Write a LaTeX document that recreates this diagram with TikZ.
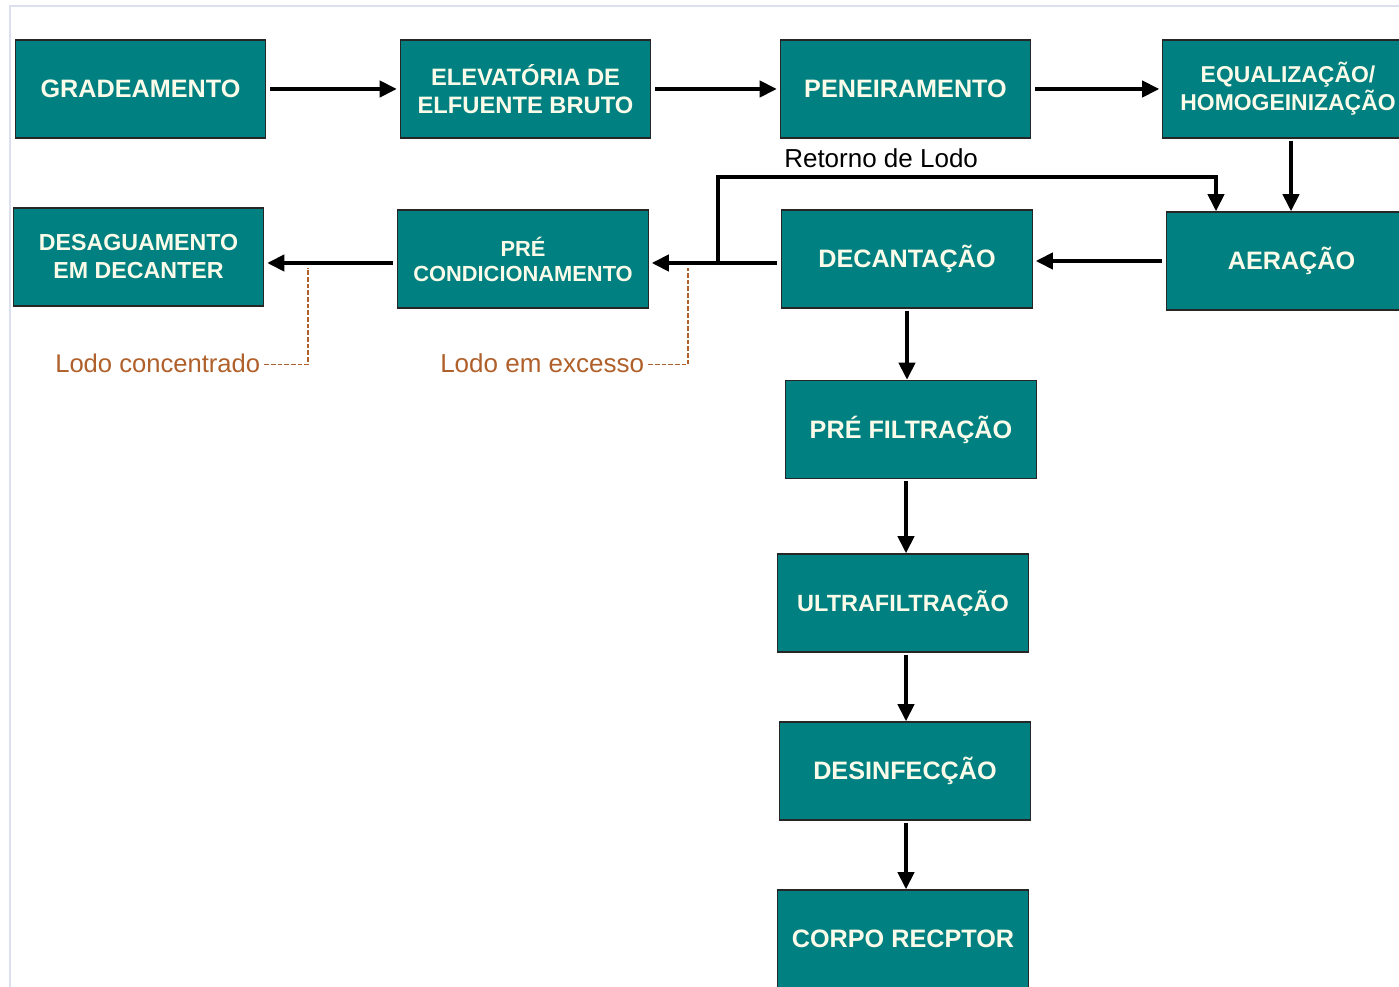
\documentclass[tikz,border=0pt]{standalone}
\usepackage{fontspec}
\setmainfont{Liberation Sans}
\usetikzlibrary{arrows.meta,calc}
\definecolor{boxfill}{HTML}{008080}
\definecolor{boxtext}{HTML}{FBFBEA}
\definecolor{sludge}{HTML}{B0602A}
\definecolor{framecol}{HTML}{DCDFEE}
\begin{document}
\begin{tikzpicture}[x=0.75pt,y=-0.75pt,
  stage/.style={draw=black!85, line width=0.9pt, fill=boxfill, text=boxtext,
    minimum width=188pt, minimum height=73.5pt, align=center, inner sep=0pt,
    font=\bfseries\fontsize{18.9}{21}\selectfont},
  twoline/.style={font=\bfseries\fontsize{17.8}{21}\selectfont},
  flow/.style={line width=3.4pt, line join=miter, shorten <=3pt, shorten >=2pt,
    -{Triangle[length=13pt,width=12pt]}},
  vflow/.style={flow, shorten <=1.5pt, shorten >=0pt},
  sludgelink/.style={draw=sludge, line width=0.8pt, dash pattern=on 3.5pt off 1.5pt},
  note/.style={inner sep=0pt, font=\fontsize{19.5}{22}\selectfont}]
\useasboundingbox (0,0) rectangle (1399,987);
\clip (0,0) rectangle (1399,987);
\fill[white] (0,0) rectangle (1399,987);
% outer frame
\draw[framecol, line width=1.2pt] (10,987) -- (10,6) -- (1399,6);

% treatment stages
\node[stage] (grad) at (140.5,89) {GRADEAMENTO};
\node[stage,twoline] (elev) at (525.5,89) {ELEVATÓRIA DE\\ELFUENTE BRUTO};
\node[stage] (pene) at (905.5,89) {PENEIRAMENTO};
\node[stage,font=\bfseries\fontsize{17.2}{21}\selectfont] (equa) at (1288,89) {EQUALIZAÇÃO/\\HOMOGEINIZAÇÃO};
\node[stage] (aera) at (1291.5,261) {AERAÇÃO};
\node[stage] (deca) at (907,259) {DECANTAÇÃO};
\node[stage,font=\bfseries\fontsize{16.4}{18.8}\selectfont] (prec) at (523,259) {PRÉ\\CONDICIONAMENTO};
\node[stage,font=\bfseries\fontsize{17.4}{21}\selectfont] (desa) at (138.5,257) {DESAGUAMENTO\\EM DECANTER};
\node[stage] (pref) at (911,429.5) {PRÉ FILTRAÇÃO};
\node[stage,font=\bfseries\fontsize{17.6}{21}\selectfont] (ultr) at (903,603) {ULTRAFILTRAÇÃO};
\node[stage] (desi) at (905,771) {DESINFECÇÃO};
\node[stage] (corp) at (903,939) {CORPO RECPTOR};

% main flow
\draw[flow] (grad.east) -- (grad.east -| elev.west);
\draw[flow] (elev.east) -- (elev.east -| pene.west);
\draw[flow] (pene.east) -- (pene.east -| equa.west);
\draw[vflow] ($(equa.south)+(3,0)$) -- ($(equa.south |- aera.north)+(3,0)$);
\draw[flow] (aera.west) -- (aera.west -| deca.east);
\draw[flow] ($(deca.west)+(0,4)$) -- ($(deca.west -| prec.east)+(0,4)$);
\draw[flow] ($(prec.west)+(0,4)$) -- ($(prec.west -| desa.east)+(0,4)$);
\draw[vflow] (deca.south) -- (deca.south |- pref.north);
\draw[vflow] ($(pref.south)+(-5,0)$) -- ($(pref.south |- ultr.north)+(-5,0)$);
\draw[vflow] ($(ultr.south)+(3,0)$) -- ($(ultr.south |- desi.north)+(3,0)$);
\draw[vflow] ($(desi.south)+(1,0)$) -- ($(desi.south |- corp.north)+(1,0)$);

% sludge return to aeration
\coordinate (ret) at (718,263);
\coordinate (rettop) at (1216,177);
\draw[vflow, shorten <=0pt] (ret) |- (rettop) -- (rettop |- aera.north);
\node[note, anchor=base west] (retlbl) at (784,168) {Retorno de Lodo};

% sludge labels
\node[note, text=sludge, font=\fontsize{19.2}{22}\selectfont, anchor=base west] (conc) at (55,373) {Lodo concentrado};
\node[note, text=sludge, anchor=base west] (exce) at (440,373) {Lodo em excesso};
\coordinate (concpt) at (308,268);
\coordinate (except) at (688,268);
\draw[sludgelink] ($(conc.east)+(4,1)$) -| (concpt);
\draw[sludgelink] ($(exce.east)+(4,1)$) -| (except);
\end{tikzpicture}
\end{document}
